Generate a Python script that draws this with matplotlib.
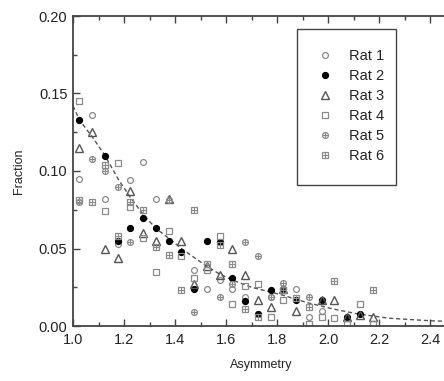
"""Fraction vs asymmetry scatter, six rats with a dashed fit curve."""

import matplotlib
matplotlib.use("Agg")
import matplotlib.pyplot as plt
from matplotlib.lines import Line2D
from matplotlib.patches import Rectangle
from matplotlib.ticker import MultipleLocator, FormatStrFormatter

plt.rcParams["font.family"] = ["Liberation Sans", "DejaVu Sans"]

# values
rat1_x = [1.025, 1.075, 1.125, 1.175, 1.225, 1.275, 1.325, 1.475, 1.525, 1.575,
          1.625, 1.675, 1.775, 1.875, 1.925, 1.975]
rat1_y = [0.095, 0.136, 0.082, 0.053, 0.094, 0.106, 0.082, 0.036, 0.024, 0.030,
          0.024, 0.019, 0.019, 0.024, 0.006, 0.010]

rat2_x = [1.025, 1.125, 1.175, 1.225, 1.275, 1.325, 1.375, 1.425, 1.475, 1.525,
          1.575, 1.625, 1.675, 1.725, 1.775, 1.825, 1.875, 1.975, 2.075, 2.125]
rat2_y = [0.133, 0.110, 0.055, 0.063, 0.070, 0.063, 0.055, 0.048, 0.024, 0.055,
          0.054, 0.031, 0.016, 0.008, 0.023, 0.024, 0.017, 0.017, 0.006, 0.008]

rat3_x = [1.025, 1.075, 1.125, 1.175, 1.225, 1.275, 1.325, 1.375, 1.425, 1.475,
          1.525, 1.575, 1.625, 1.675, 1.725, 1.775, 1.825, 1.875, 1.975, 2.025,
          2.075, 2.125, 2.175]
rat3_y = [0.115, 0.125, 0.050, 0.044, 0.087, 0.060, 0.055, 0.082, 0.055, 0.027,
          0.039, 0.033, 0.050, 0.033, 0.017, 0.012, 0.024, 0.010, 0.017, 0.017,
          0.006, 0.007, 0.006]

rat4_x = [1.025, 1.125, 1.175, 1.225, 1.275, 1.325, 1.375, 1.425, 1.475, 1.525,
          1.575, 1.625, 1.675, 1.725, 1.775, 1.825, 1.925, 1.975, 2.025, 2.075,
          2.125, 2.175]
rat4_y = [0.145, 0.074, 0.105, 0.077, 0.057, 0.035, 0.061, 0.045, 0.031, 0.036,
          0.058, 0.014, 0.026, 0.027, 0.006, 0.017, 0.001, 0.006, 0.005, 0.001,
          0.014, 0.001]

rat5_x = [1.025, 1.075, 1.125, 1.175, 1.225, 1.375, 1.475, 1.575, 1.625, 1.675,
          1.725, 1.775, 1.825, 1.925]
rat5_y = [0.080, 0.108, 0.100, 0.090, 0.054, 0.081, 0.009, 0.019, 0.027, 0.054,
          0.045, 0.019, 0.028, 0.019]

rat6_x = [1.025, 1.075, 1.125, 1.175, 1.225, 1.275, 1.325, 1.375, 1.425, 1.475,
          1.525, 1.575, 1.625, 1.675, 1.725, 1.825, 1.875, 1.925, 2.025, 2.175]
rat6_y = [0.081, 0.080, 0.104, 0.058, 0.080, 0.075, 0.051, 0.046, 0.023, 0.075,
          0.040, 0.052, 0.040, 0.011, 0.006, 0.023, 0.018, 0.012, 0.029, 0.023]

# dashed fit curve, traced point by point
fit_x = [1.00, 1.025, 1.08, 1.125, 1.18, 1.225, 1.275, 1.325, 1.38, 1.425, 1.52,
         1.57, 1.62, 1.70, 1.82, 1.92, 2.02, 2.11, 2.24, 2.40, 2.50]
fit_y = [0.142, 0.133, 0.121, 0.110, 0.094, 0.083, 0.072, 0.063, 0.056, 0.050,
         0.039, 0.034, 0.030, 0.025, 0.020, 0.015, 0.011, 0.008, 0.005, 0.0034,
         0.0028]

grey = "#8a8a8a"
dark = "#555555"

fig = plt.figure(figsize=(4.44, 3.81), dpi=100)
ax = fig.add_axes([73 / 444, 55 / 381, 377 / 444, 310 / 381])

ax.plot(fit_x, fit_y, linestyle=(0, (3, 2)), color="#555555", linewidth=1.0,
        zorder=1)

ms = 4.2
ax.plot(rat1_x, rat1_y, "o", mfc="none", mec=grey, mew=0.9, ms=ms, label="Rat 1")
ax.plot(rat2_x, rat2_y, "o", mfc="black", mec="black", ms=ms, label="Rat 2")
ax.plot(rat3_x, rat3_y, "^", mfc="none", mec=dark, mew=1.0, ms=ms + 1, label="Rat 3")
ax.plot(rat4_x, rat4_y, "s", mfc="none", mec=grey, mew=0.9, ms=ms, label="Rat 4")
ax.plot(rat5_x, rat5_y, "o", mfc="none", mec=grey, mew=0.9, ms=ms, label="Rat 5")
ax.plot(rat5_x, rat5_y, "+", mec=grey, mew=0.8, ms=ms, zorder=2)
ax.plot(rat6_x, rat6_y, "s", mfc="none", mec=grey, mew=0.9, ms=ms, label="Rat 6")
ax.plot(rat6_x, rat6_y, "+", mec=grey, mew=0.8, ms=ms, zorder=2)

# legend handles for the crossed markers
h, l = ax.get_legend_handles_labels()
h[4] = (Line2D([], [], marker="o", ls="", mfc="none", mec=grey, mew=0.9, ms=ms),
        Line2D([], [], marker="+", ls="", mec=grey, mew=0.8, ms=ms))
h[5] = (Line2D([], [], marker="s", ls="", mfc="none", mec=grey, mew=0.9, ms=ms),
        Line2D([], [], marker="+", ls="", mec=grey, mew=0.8, ms=ms))
leg = ax.legend(h, l, loc="upper left", bbox_to_anchor=((297 - 73) / 377, 1 - 13 / 310),
                fontsize=10.5, frameon=False, borderpad=1.35,
                labelspacing=0.42, handlelength=1.2, handletextpad=1.0,
                borderaxespad=0)
for t in leg.get_texts():
    t.set_color("#222222")

# legend box drawn separately so its width matches
box = Rectangle(((297 - 73) / 377, (326 - 185) / 310), 99 / 377, 156 / 310,
                transform=ax.transAxes, fill=False, edgecolor="#444444",
                linewidth=1.0, zorder=5)
ax.add_patch(box)

ax.set_xlim(1.0, 1.0 + 377 / 255)
ax.set_ylim(0.0, 0.20)
ax.xaxis.set_major_locator(MultipleLocator(0.2))
ax.xaxis.set_minor_locator(MultipleLocator(0.1))
ax.yaxis.set_major_locator(MultipleLocator(0.05))
ax.yaxis.set_minor_locator(MultipleLocator(0.025))
ax.xaxis.set_major_formatter(FormatStrFormatter("%.1f"))
ax.yaxis.set_major_formatter(FormatStrFormatter("%.2f"))

ax.tick_params(which="both", direction="in", top=True, right=False,
               colors="#444444", labelcolor="#222222", width=1.0)
ax.tick_params(which="major", length=5, labelsize=10.5, pad=5)
ax.tick_params(which="minor", length=3)
ax.tick_params(axis="y", which="major", pad=4)

for side in ["left", "bottom", "top"]:
    ax.spines[side].set_color("#444444")
    ax.spines[side].set_linewidth(1.3)
ax.spines["right"].set_visible(False)

ax.set_xlabel("Asymmetry", fontsize=9, color="#222222", labelpad=9)
ax.set_ylabel("Fraction", fontsize=9, color="#222222", labelpad=10)

plt.savefig("out.png", dpi=100)
plt.close(fig)
